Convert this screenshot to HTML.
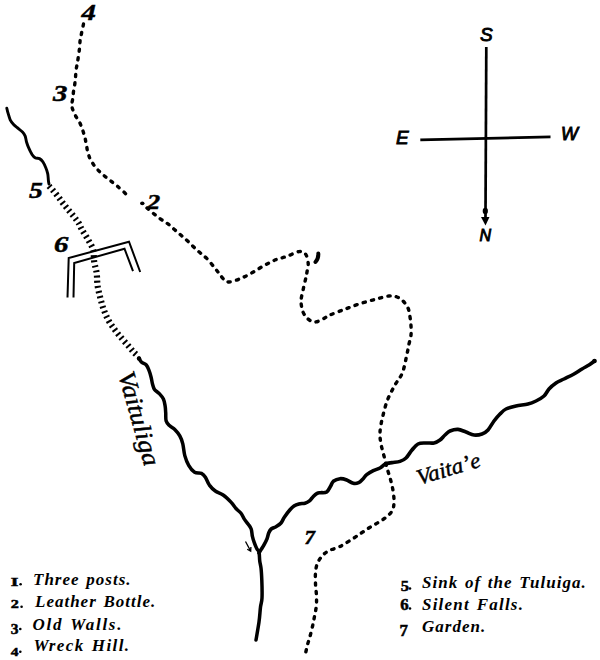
<!DOCTYPE html>
<html><head><meta charset="utf-8"><style>
html,body{margin:0;padding:0;background:#fff;}
body{width:600px;height:660px;position:relative;overflow:hidden;}
svg{position:absolute;left:0;top:0;}
.dash{fill:none;stroke:#000;stroke-width:3.4;stroke-dasharray:2.2 6.3;stroke-linecap:round;stroke-linejoin:round;}
.riv{fill:none;stroke:#000;stroke-width:3.6;stroke-linecap:round;stroke-linejoin:round;}
.hatch{fill:none;stroke:#000;stroke-width:6.2;stroke-dasharray:2 3.2;}
.wall{fill:none;stroke:#000;stroke-width:2;stroke-linejoin:miter;}
.cmp{fill:none;stroke:#000;stroke-width:2.7;}
text{fill:#000;}
.num{font-family:"Liberation Serif",serif;font-style:italic;font-weight:bold;stroke:#000;stroke-width:0.5;}
.cmpl{font-family:"Liberation Sans",sans-serif;font-style:italic;stroke:#000;stroke-width:0.9;}
.riv-t{font-family:"Liberation Serif",serif;font-style:italic;stroke:#000;stroke-width:0.45;}
.lg{font-family:"Liberation Serif",serif;font-style:italic;font-weight:bold;font-size:17px;letter-spacing:1px;word-spacing:1.5px;}
.lgn{font-family:"Liberation Serif",serif;font-weight:bold;stroke:#000;stroke-width:0.5;}
</style></head><body>
<svg width="600" height="660" viewBox="0 0 600 660">
<path class="dash" d="M83.5 24.0 C83.2 25.5 82.1 30.4 81.6 33.0 C81.0 35.6 80.6 37.0 80.2 39.8 C79.8 42.6 79.8 46.2 79.3 50.0 C78.8 53.8 78.0 59.0 77.5 62.3 C77.0 65.6 76.4 67.3 76.1 69.8 C75.8 72.3 75.7 74.9 75.5 77.3 C75.3 79.7 75.1 81.5 74.8 84.0 C74.5 86.5 73.8 89.8 73.4 92.3 C73.1 94.8 73.0 97.0 72.7 99.0 C72.4 101.0 71.9 102.6 71.8 104.0 C71.7 105.4 71.5 105.7 72.1 107.6 C72.7 109.5 73.9 112.7 75.2 115.2 C76.5 117.7 78.5 120.2 79.7 122.7 C81.0 125.2 81.8 127.8 82.7 130.3 C83.6 132.8 84.4 135.4 85.0 137.9 C85.6 140.4 86.0 143.0 86.5 145.5 C87.0 148.0 87.2 150.5 88.0 153.0 C88.8 155.5 89.6 158.1 91.0 160.6 C92.4 163.1 94.5 165.9 96.4 168.2 C98.3 170.5 100.1 172.2 102.4 174.2 C104.7 176.2 107.5 178.3 110.0 180.3 C112.5 182.3 114.9 184.1 117.6 186.4 C120.3 188.7 124.6 192.7 126.0 194.0"/>
<path class="dash" d="M147.0 208.0 C148.1 208.9 151.0 211.4 153.3 213.3 C155.6 215.2 158.3 217.4 160.8 219.2 C163.3 221.0 165.9 222.4 168.3 224.2 C170.7 226.0 172.8 228.1 175.0 230.0 C177.2 231.9 179.5 233.9 181.7 235.8 C183.9 237.8 186.1 239.6 188.3 241.7 C190.5 243.8 192.8 246.2 195.0 248.3 C197.2 250.4 199.5 252.2 201.7 254.2 C203.9 256.1 206.1 257.6 208.3 260.0 C210.5 262.4 213.1 266.0 215.0 268.3 C216.9 270.6 218.0 272.1 219.5 274.0 C221.0 275.9 222.4 278.2 224.0 279.5 C225.6 280.8 226.2 282.2 229.0 282.0 C231.8 281.8 236.7 280.1 240.6 278.5 C244.5 276.9 248.4 274.8 252.3 272.6 C256.2 270.5 260.1 267.7 264.0 265.6 C267.9 263.5 271.7 261.4 275.6 259.8 C279.5 258.2 283.3 257.7 287.2 256.3 C291.1 254.9 295.8 252.0 298.9 251.6 C301.9 251.2 303.9 252.1 305.5 254.0 C307.1 255.9 307.9 260.3 308.2 263.3 C308.4 266.3 307.4 269.7 307.0 272.0 C306.6 274.3 306.6 274.6 306.0 277.3 C305.4 280.0 304.2 284.7 303.5 288.0 C302.8 291.3 301.9 294.7 301.5 297.0 C301.1 299.3 300.8 299.5 301.0 302.0 C301.2 304.5 301.8 309.2 303.0 312.0 C304.2 314.8 306.0 317.3 308.0 319.0 C310.0 320.7 312.5 322.0 315.0 322.0 C317.5 322.0 320.5 320.2 323.0 319.0 C325.5 317.8 326.5 316.6 330.0 315.0 C333.5 313.4 339.2 311.4 344.0 309.6 C348.8 307.8 353.8 305.7 359.0 304.0 C364.2 302.3 370.0 300.7 375.0 299.4 C380.0 298.1 385.3 296.4 389.0 296.0 C392.7 295.6 394.7 296.2 397.0 297.0 C399.3 297.8 401.2 299.2 403.0 301.0 C404.8 302.8 406.8 305.3 408.0 308.0 C409.2 310.7 409.5 314.0 410.0 317.0 C410.5 320.0 410.8 323.0 411.0 326.0 C411.2 329.0 411.3 332.0 411.0 335.0 C410.7 338.0 409.7 340.8 409.0 344.0 C408.3 347.2 408.1 349.2 407.0 354.0 C405.9 358.8 404.5 367.3 402.5 372.5 C400.5 377.7 397.5 380.4 395.0 385.0 C392.5 389.6 389.6 394.6 387.5 400.0 C385.4 405.4 383.8 412.1 382.5 417.5 C381.2 422.9 380.2 428.1 380.0 432.5 C379.8 436.9 380.3 440.1 381.0 444.0 C381.7 447.9 383.0 452.0 384.0 456.0 C385.0 460.0 385.9 464.1 387.0 468.0 C388.1 471.9 389.5 475.8 390.5 479.5 C391.5 483.2 392.4 486.9 393.0 490.5 C393.6 494.1 394.1 498.1 394.0 501.4 C393.9 504.7 393.8 507.6 392.5 510.2 C391.2 512.8 388.8 515.0 386.4 517.0 C384.0 519.0 380.9 520.8 378.2 522.5 C375.5 524.2 372.7 525.6 370.0 527.3 C367.3 529.0 364.5 530.9 361.8 532.7 C359.1 534.5 356.6 536.3 353.6 538.2 C350.6 540.1 346.6 542.8 344.0 544.3 C341.4 545.8 340.8 546.2 338.2 547.3 C335.6 548.4 330.9 549.5 328.2 551.0 C325.5 552.5 323.6 554.3 321.8 556.4 C320.0 558.5 318.4 560.9 317.3 563.6 C316.2 566.3 315.8 569.4 315.5 572.7 C315.2 576.0 315.4 580.0 315.5 583.6 C315.6 587.2 316.2 590.9 316.4 594.5 C316.5 598.1 316.7 601.9 316.4 605.5 C316.1 609.1 315.1 613.1 314.5 616.4 C313.9 619.7 313.4 622.2 312.7 625.5 C311.9 628.8 310.9 633.1 310.0 636.4 C309.1 639.7 308.1 642.4 307.3 645.5 C306.5 648.6 305.6 653.4 305.2 655.0"/>
<ellipse cx="142.3" cy="203.3" rx="2.2" ry="1.9" fill="#000"/>
<path class="riv" style="stroke-width:2.9" d="M6.8 108.2 C7.0 109.1 7.6 111.7 8.2 113.6 C8.8 115.5 9.3 118.0 10.2 119.8 C11.1 121.6 12.3 123.1 13.6 124.5 C14.8 125.9 16.2 126.8 17.7 128.0 C19.2 129.2 21.2 130.7 22.5 132.0 C23.8 133.3 24.5 134.4 25.2 136.1 C25.9 137.8 26.0 140.4 26.6 142.3 C27.2 144.2 27.7 145.7 28.6 147.7 C29.5 149.7 30.9 152.8 32.0 154.5 C33.1 156.2 34.2 157.3 35.5 158.0 C36.8 158.7 38.2 157.9 39.5 158.6 C40.8 159.3 42.0 160.5 43.0 162.0 C44.0 163.5 44.9 165.6 45.7 167.5 C46.5 169.4 47.2 171.4 47.7 173.6 C48.2 175.8 48.2 178.8 48.4 180.5 C48.6 182.2 48.9 183.4 49.0 184.0"/>
<path class="hatch" d="M49.0 186.0 C49.6 186.7 51.3 188.4 52.8 190.2 C54.3 192.0 56.4 194.5 58.1 196.6 C59.8 198.7 61.1 200.9 62.8 203.0 C64.5 205.1 66.2 207.2 68.0 209.4 C69.8 211.6 72.0 214.2 73.8 216.4 C75.5 218.6 77.1 220.6 78.5 222.8 C79.9 225.0 80.5 227.1 82.0 229.8 C83.5 232.5 86.0 235.9 87.8 239.2 C89.6 242.5 91.9 245.8 93.0 249.5 C94.1 253.2 93.6 257.7 94.2 261.7 C94.8 265.7 96.2 269.4 96.7 273.3 C97.2 277.2 97.0 281.1 97.5 285.0 C98.0 288.9 99.0 292.8 100.0 296.7 C101.0 300.6 101.9 304.4 103.3 308.3 C104.7 312.2 106.3 316.4 108.3 320.0 C110.2 323.6 112.8 326.9 115.0 330.0 C117.2 333.1 119.5 335.7 121.7 338.3 C123.9 340.9 126.4 343.6 128.3 345.8 C130.2 348.0 131.7 350.0 133.3 351.7 C134.9 353.4 137.2 355.3 138.0 356.0"/>
<path class="riv" style="stroke-width:3.5" d="M138.9 358.2 C139.3 358.9 140.4 361.2 141.6 362.3 C142.8 363.4 145.1 363.6 146.3 365.0 C147.5 366.4 148.2 368.4 149.0 370.4 C149.8 372.4 150.5 374.9 151.1 377.2 C151.7 379.5 151.9 381.9 152.5 384.0 C153.1 386.1 153.4 387.9 154.5 389.5 C155.6 391.1 157.8 392.0 159.3 393.6 C160.8 395.2 162.4 396.9 163.4 399.0 C164.4 401.1 164.7 403.6 165.1 405.9 C165.5 408.2 165.5 410.2 165.7 412.7 C165.9 415.2 165.5 418.6 166.1 420.8 C166.7 423.0 168.0 424.1 169.5 425.6 C171.0 427.1 173.3 428.0 175.0 429.7 C176.7 431.4 178.5 433.5 179.8 435.9 C181.1 438.2 182.0 440.5 182.8 443.8 C183.6 447.1 183.8 452.0 184.8 455.6 C185.8 459.2 187.1 462.6 188.7 465.4 C190.3 468.2 192.5 471.0 194.6 472.3 C196.7 473.6 199.7 472.5 201.5 473.3 C203.3 474.1 204.1 475.2 205.4 477.2 C206.7 479.2 207.8 482.8 209.4 485.1 C211.1 487.4 213.0 489.4 215.3 491.0 C217.6 492.6 220.4 493.1 223.1 495.0 C225.8 496.9 229.0 500.1 231.2 502.4 C233.3 504.6 234.4 506.7 236.0 508.5 C237.6 510.3 239.6 511.5 241.0 513.3 C242.4 515.1 243.3 517.6 244.5 519.4 C245.7 521.2 247.1 522.6 248.2 524.2 C249.3 525.8 250.5 527.0 251.2 529.0 C251.9 531.0 251.9 534.2 252.4 536.4 C252.9 538.6 253.5 540.4 254.2 542.4 C254.9 544.4 255.9 546.9 256.7 548.5 C257.5 550.1 258.5 550.0 259.0 552.0 C259.5 554.0 259.4 557.9 259.7 560.6 C260.0 563.3 260.6 564.8 261.0 568.0 C261.4 571.2 261.6 575.0 261.8 580.0 C262.0 585.0 262.2 593.5 262.0 598.0 C261.8 602.5 261.0 603.0 260.5 607.0 C260.0 611.0 259.8 616.5 259.0 622.0 C258.2 627.5 256.5 637.0 256.0 640.0"/>
<path class="riv" d="M259.0 553.0 C259.3 552.5 260.2 551.1 261.0 549.7 C261.8 548.3 263.0 546.6 264.0 544.8 C265.0 543.0 266.2 540.8 267.0 538.8 C267.8 536.8 268.1 534.3 268.8 532.7 C269.5 531.1 270.0 530.0 271.2 529.0 C272.4 528.0 274.4 527.7 276.0 526.7 C277.6 525.7 279.6 524.6 281.0 523.0 C282.4 521.4 283.0 519.2 284.5 517.0 C286.0 514.8 288.4 511.5 290.0 509.7 C291.6 507.9 292.5 507.0 294.0 506.0 C295.5 505.0 297.1 504.4 298.9 503.9 C300.7 503.4 303.2 503.7 305.0 503.2 C306.8 502.7 308.1 502.0 309.5 500.9 C310.9 499.8 312.0 497.7 313.3 496.4 C314.6 495.1 315.9 493.9 317.1 493.3 C318.3 492.7 318.9 492.9 320.5 492.7 C322.1 492.5 325.0 493.1 326.7 492.0 C328.4 490.9 329.6 487.8 330.7 486.0 C331.8 484.2 331.8 482.5 333.3 481.3 C334.9 480.1 337.8 478.9 340.0 478.7 C342.2 478.5 344.5 479.2 346.7 480.0 C348.9 480.8 351.3 482.9 353.3 483.3 C355.3 483.8 357.1 483.4 358.7 482.7 C360.3 482.0 361.4 480.6 362.7 479.3 C364.0 478.0 364.9 476.1 366.7 474.7 C368.5 473.3 371.1 471.8 373.3 470.7 C375.5 469.6 378.0 469.1 380.0 468.0 C382.0 466.9 383.3 464.9 385.3 464.0 C387.3 463.1 389.6 463.0 392.0 462.6 C394.4 462.2 397.7 462.2 400.0 461.4 C402.3 460.6 404.0 459.9 406.0 458.0 C408.0 456.1 410.0 452.3 412.0 450.0 C414.0 447.7 415.7 445.2 418.0 444.0 C420.3 442.8 423.3 443.2 426.0 443.0 C428.7 442.8 431.7 443.5 434.0 443.0 C436.3 442.5 438.2 441.3 440.0 440.0 C441.8 438.7 443.3 436.5 445.0 435.0 C446.7 433.5 447.8 431.9 450.0 431.0 C452.2 430.1 455.3 429.2 458.0 429.4 C460.7 429.6 463.3 431.1 466.0 432.0 C468.7 432.9 471.3 434.7 474.0 435.0 C476.7 435.3 479.7 434.8 482.0 434.0 C484.3 433.2 486.0 432.2 488.0 430.0 C490.0 427.8 492.0 423.7 494.0 421.0 C496.0 418.3 498.0 416.0 500.0 414.0 C502.0 412.0 503.3 410.3 506.0 409.0 C508.7 407.7 512.3 406.8 516.0 406.0 C519.7 405.2 524.7 404.8 528.0 404.0 C531.3 403.2 533.3 402.3 536.0 401.0 C538.7 399.7 541.8 398.0 544.0 396.0 C546.2 394.0 547.0 391.2 549.0 389.0 C551.0 386.8 553.5 384.7 556.0 383.0 C558.5 381.3 561.0 380.5 564.0 379.0 C567.0 377.5 571.0 375.7 574.0 374.0 C577.0 372.3 579.5 370.5 582.0 369.0 C584.5 367.5 586.9 366.3 589.0 365.0 C591.1 363.7 593.6 361.7 594.5 361.0"/>
<circle cx="594.5" cy="361" r="2.3" fill="#000"/>
<circle cx="139" cy="358.5" r="2.2" fill="#000"/>
<polyline class="wall" points="67.5,297.5 68.7,258 129,241.7 140.2,272"/>
<polyline class="wall" points="73.5,297.5 74.2,263 124.5,248.7 133,271.2"/>
<path class="cmp" d="M486.3 47 L485.5 218"/>
<path class="cmp" d="M420.3 139.8 L550.5 136.9"/>
<ellipse cx="485.3" cy="211" rx="2.6" ry="3.3" fill="#000"/>
<path d="M481 217 L489.5 217 L485.5 225.5 Z" fill="#000"/>
<path d="M245.5 541.5 L250.7 551.1 M250.9 547 L250.7 551.1 L247.2 549.2" stroke="#000" stroke-width="1.3" fill="none"/>
<path d="M318.3 253.5 Q318.6 258.5 315.5 262" stroke="#000" stroke-width="4" stroke-linecap="round" fill="none"/>
<text class="num" transform="translate(81.5,19.5) scale(1.2,1)" font-size="24">4</text>
<text class="num" transform="translate(53,101) scale(1.2,1)" font-size="24">3</text>
<text class="num" transform="translate(147,208.5) scale(1.25,1)" font-size="21">2</text>
<text class="num" transform="translate(29,197.5) scale(1.2,1)" font-size="23">5</text>
<text class="num" transform="translate(54,252) scale(1.25,1)" font-size="23">6</text>
<text class="num" transform="translate(304.5,544) scale(1.1,1)" font-size="19">7</text>
<text x="480" y="40.8" class="cmpl" font-size="19">S</text>
<text x="396" y="143.7" class="cmpl" font-size="19">E</text>
<text x="561" y="140" class="cmpl" font-size="18">W</text>
<text x="479.5" y="241" class="cmpl" font-size="16" stroke-width="0.8">N</text>
<text class="riv-t" transform="translate(118,374) rotate(74) scale(1.1,1)" font-size="24.5">Vaituliga</text>
<text class="riv-t" transform="translate(419,485) rotate(-16.5) scale(1.05,1)" font-size="22" stroke-width="0.75">Vaita&#8217;e</text>
<text x="33" y="585" class="lg" >Three posts.</text>
<text x="35" y="607.3" class="lg" >Leather Bottle.</text>
<text x="32.5" y="630" class="lg" style="letter-spacing:1.7px">Old Walls.</text>
<text x="33.6" y="650.7" class="lg" style="letter-spacing:1.4px">Wreck Hill.</text>
<text x="422" y="588" class="lg" >Sink of the Tuluiga.</text>
<text x="422" y="609.8" class="lg" style="letter-spacing:1.2px">Silent Falls.</text>
<text x="422" y="632.3" class="lg" >Garden.</text>
<text class="lgn" transform="translate(10.8,585.7) scale(1.45,1)" font-size="13.5">I</text>
<circle cx="20.6" cy="584.3" r="1.3" fill="#000"/>
<text class="lgn" transform="translate(10.8,608.2) scale(1.2,1)" font-size="13.5">2</text>
<circle cx="21.6" cy="606.8" r="1.3" fill="#000"/>
<text class="lgn" transform="translate(10.8,634) scale(1.1,1)" font-size="14">3</text>
<circle cx="20.3" cy="629" r="1.3" fill="#000"/>
<text class="lgn" transform="translate(10.8,656) scale(1.15,1)" font-size="13.5">4</text>
<circle cx="20.3" cy="651.8" r="1.3" fill="#000"/>
<text class="lgn" transform="translate(400.8,590.8) scale(1.1,1)" font-size="15">5</text>
<circle cx="410" cy="588.5" r="1.3" fill="#000"/>
<text class="lgn" transform="translate(400.3,609.8) scale(1.05,1)" font-size="16">6</text>
<circle cx="410" cy="608.5" r="1.3" fill="#000"/>
<text class="lgn" transform="translate(399.5,635.5) scale(1.05,1)" font-size="16">7</text>
</svg>
</body></html>
